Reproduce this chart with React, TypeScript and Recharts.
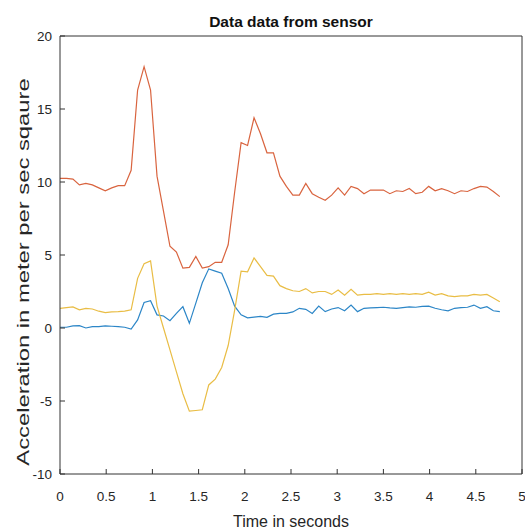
import React from "react";
import { LineChart, Line, XAxis, YAxis, Customized } from "recharts";

const times = [0, 0.07, 0.14, 0.21, 0.28, 0.35, 0.42, 0.49, 0.56, 0.63, 0.7, 0.77, 0.84, 0.91, 0.98, 1.05, 1.12, 1.19, 1.26, 1.33, 1.4, 1.47, 1.54, 1.61, 1.68, 1.75, 1.82, 1.89, 1.96, 2.03, 2.1, 2.17, 2.24, 2.31, 2.38, 2.45, 2.52, 2.59, 2.66, 2.73, 2.8, 2.87, 2.94, 3.01, 3.08, 3.15, 3.22, 3.29, 3.36, 3.43, 3.5, 3.57, 3.64, 3.71, 3.78, 3.85, 3.92, 3.99, 4.06, 4.13, 4.2, 4.27, 4.34, 4.41, 4.48, 4.55, 4.62, 4.69, 4.76];

const blueSeries = [0.05, 0.05, 0.15, 0.16, 0.0, 0.1, 0.1, 0.14, 0.12, 0.1, 0.05, -0.07, 0.55, 1.75, 1.87, 0.9, 0.82, 0.5, 1.0, 1.46, 0.32, 1.7, 3.1, 4.05, 3.9, 3.75, 2.7, 1.5, 0.9, 0.7, 0.75, 0.8, 0.73, 0.95, 1.0, 1.0, 1.1, 1.35, 1.28, 1.0, 1.5, 1.12, 1.3, 1.4, 1.18, 1.57, 1.12, 1.35, 1.38, 1.4, 1.42, 1.38, 1.35, 1.4, 1.45, 1.42, 1.48, 1.5, 1.35, 1.25, 1.18, 1.35, 1.4, 1.42, 1.57, 1.35, 1.46, 1.18, 1.12];

const redSeries = [10.25, 10.25, 10.2, 9.8, 9.9, 9.8, 9.6, 9.4, 9.6, 9.75, 9.75, 10.8, 16.3, 17.9, 16.3, 10.4, 8.0, 5.6, 5.2, 4.1, 4.15, 4.9, 4.1, 4.2, 4.5, 4.5, 5.7, 9.3, 12.7, 12.5, 14.4, 13.3, 12.0, 12.0, 10.4, 9.7, 9.1, 9.1, 9.9, 9.2, 8.95, 8.75, 9.1, 9.6, 9.1, 9.7, 9.55, 9.2, 9.45, 9.45, 9.45, 9.2, 9.4, 9.35, 9.55, 9.2, 9.3, 9.7, 9.4, 9.55, 9.4, 9.2, 9.4, 9.35, 9.55, 9.7, 9.65, 9.35, 9.0];

const yellowSeries = [1.35, 1.4, 1.45, 1.25, 1.35, 1.3, 1.15, 1.05, 1.1, 1.12, 1.15, 1.25, 3.4, 4.4, 4.6, 1.5, 0.0, -1.5, -3.0, -4.5, -5.7, -5.65, -5.6, -3.9, -3.5, -2.7, -1.2, 1.2, 3.9, 3.85, 4.8, 4.2, 3.6, 3.55, 2.9, 2.7, 2.55, 2.5, 2.7, 2.4, 2.5, 2.5, 2.3, 2.6, 2.25, 2.65, 2.25, 2.3, 2.3, 2.35, 2.3, 2.35, 2.3, 2.35, 2.3, 2.35, 2.3, 2.45, 2.25, 2.35, 2.2, 2.15, 2.2, 2.2, 2.3, 2.25, 2.3, 2.05, 1.8];

const xTicks = [0, 0.5, 1, 1.5, 2, 2.5, 3, 3.5, 4, 4.5, 5];
const yTicks = [-10, -5, 0, 5, 10, 15, 20];

const titleText = "Data data from sensor";
const xLabelText = "Time in seconds";
const yLabelText = "Acceleration in meter per sec sqaure";

const data = times.map((t, i) => ({
  t,
  blue: blueSeries[i],
  red: redSeries[i],
  yellow: yellowSeries[i],
}));

const FONT = "'Liberation Sans', Arial, sans-serif";
const AXIS = "#333333";

const Texts = () => (
  <g>
    <text x={291} y={27} textAnchor="middle" fontFamily={FONT} fontWeight="bold" fontSize={15.5} fill="#111">
      {titleText}
    </text>
    <text x={291} y={527} textAnchor="middle" fontFamily={FONT} fontSize={16} fill="#262626">
      {xLabelText}
    </text>
    <text
      x={0}
      y={0}
      transform="translate(29,272) rotate(-90) scale(1.4,1)"
      textAnchor="middle"
      fontFamily={FONT}
      fontSize={17}
      fill="#262626"
    >
      {yLabelText}
    </text>
  </g>
);

export default function App() {
  const tickStyle = { fontFamily: FONT, fontSize: 13.5, fill: "#262626" };
  return (
    <div style={{ position: "absolute", left: 0, top: 0, background: "#fff" }}>
      <LineChart
        width={525}
        height={531}
        data={data}
        margin={{ top: 35, right: 2, bottom: 27, left: 0 }}
      >
        <XAxis
          xAxisId="bottom"
          dataKey="t"
          type="number"
          domain={[0, 5]}
          ticks={xTicks}
          allowDataOverflow
          orientation="bottom"
          height={30}
          tickSize={-5}
          tickMargin={22}
          axisLine={{ stroke: AXIS }}
          tickLine={{ stroke: AXIS }}
          tick={tickStyle}
          interval={0}
        />
        <XAxis
          xAxisId="top"
          dataKey="t"
          type="number"
          domain={[0, 5]}
          ticks={xTicks}
          orientation="top"
          height={1}
          tickSize={-5}
          axisLine={{ stroke: AXIS }}
          tickLine={{ stroke: AXIS }}
          tick={false}
          interval={0}
        />
        <YAxis
          yAxisId="left"
          type="number"
          domain={[-10, 20]}
          ticks={yTicks}
          allowDataOverflow
          orientation="left"
          width={60}
          tickSize={-5}
          tickMargin={13}
          axisLine={{ stroke: AXIS }}
          tickLine={{ stroke: AXIS }}
          tick={tickStyle}
          interval={0}
        />
        <YAxis
          yAxisId="right"
          type="number"
          domain={[-10, 20]}
          ticks={yTicks}
          orientation="right"
          width={1}
          tickSize={-5}
          axisLine={{ stroke: AXIS }}
          tickLine={{ stroke: AXIS }}
          tick={false}
          interval={0}
        />
        <Line xAxisId="bottom" yAxisId="left" type="linear" dataKey="blue" stroke="#2c86c7" strokeWidth={1.2} dot={false} isAnimationActive={false} />
        <Line xAxisId="bottom" yAxisId="left" type="linear" dataKey="red" stroke="#d9643f" strokeWidth={1.2} dot={false} isAnimationActive={false} />
        <Line xAxisId="bottom" yAxisId="left" type="linear" dataKey="yellow" stroke="#e9bd45" strokeWidth={1.2} dot={false} isAnimationActive={false} />
        <Customized component={Texts} />
      </LineChart>
    </div>
  );
}
